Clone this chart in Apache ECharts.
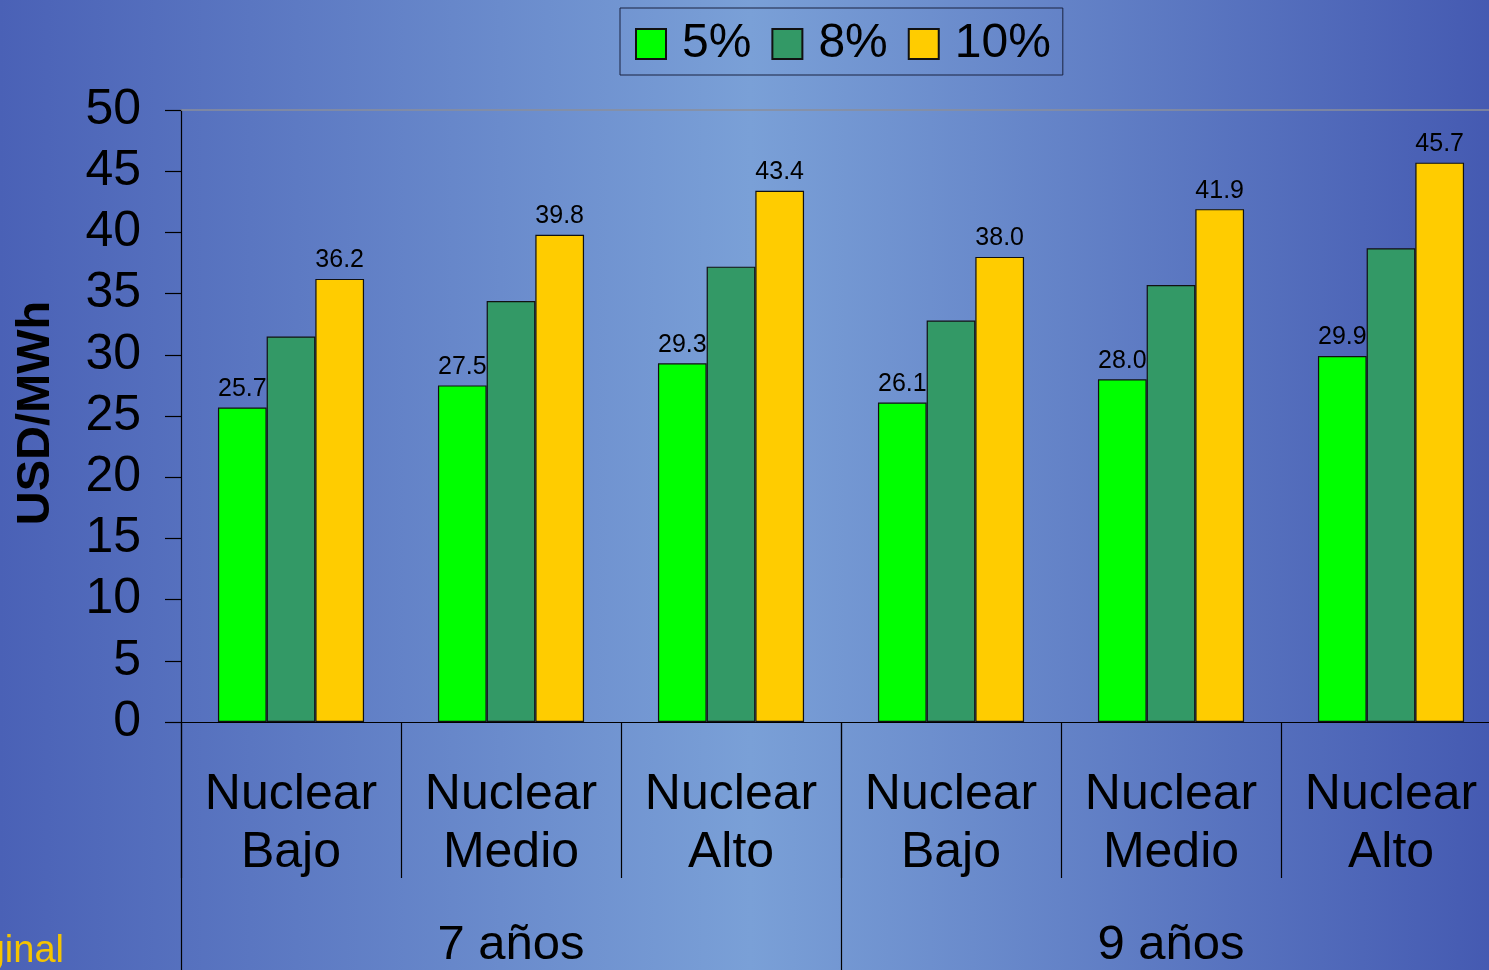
<!DOCTYPE html>
<html>
<head>
<meta charset="utf-8">
<title>Costo nivelado - Nuclear</title>
<script src="https://cdn.jsdelivr.net/npm/echarts@6/dist/echarts.min.js"></script>
<style>
  html, body { margin: 0; padding: 0; overflow: hidden; width: 1489px; height: 970px; position: relative; }
  /* the plot area runs a little past the right edge of the page */
  #chart { position: absolute; left: 0; top: 0; width: 1501px; height: 970px; }
</style>
</head>
<body>
<div id="chart"></div>
<script>
// Scenario categories: cost level within each construction horizon
const levels = ['Bajo', 'Medio', 'Alto'];
const horizons = ['7 años', '9 años'];
const categories = ['Nuclear\nBajo', 'Nuclear\nMedio', 'Nuclear\nAlto',
                    'Nuclear\nBajo', 'Nuclear\nMedio', 'Nuclear\nAlto'];

// Levelized cost (USD/MWh) by discount rate
const seriesNames = ['5%', '8%', '10%'];
const rate5  = [25.7, 27.5, 29.3, 26.1, 28.0, 29.9];
const rate8  = [31.5, 34.4, 37.2, 32.8, 35.7, 38.7];
const rate10 = [36.2, 39.8, 43.4, 38.0, 41.9, 45.7];

const yTicks = [0, 5, 10, 15, 20, 25, 30, 35, 40, 45, 50];

const FONT = 'Liberation Sans, Arial, sans-serif';
const colors = ['#00ff00', '#339966', '#ffcc00'];

const chart = echarts.init(document.getElementById('chart'), null, { renderer: 'canvas', width: 1501, height: 970 });

function barSeries(name, data, color, showLabel) {
  return {
    name: name,
    type: 'bar',
    xAxisIndex: 0,
    data: data,
    barGap: '0%',
    barCategoryGap: '33.6%',
    itemStyle: { color: color, borderColor: '#111111', borderWidth: 1.2 },
    label: {
      show: showLabel,
      position: 'top',
      distance: 6,
      color: '#000000',
      fontFamily: FONT,
      fontSize: 25,
      formatter: p => p.value.toFixed(1)
    },
    emphasis: { disabled: true },
    animation: false
  };
}

const option = {
  backgroundColor: {
    type: 'linear', x: 0, y: 0, x2: 1, y2: 0,
    colorStops: [
      { offset: 0, color: '#4a61b6' },
      { offset: 0.5, color: '#7aa0d7' },
      { offset: 1, color: '#4459b1' }
    ]
  },
  animation: false,
  grid: { left: 181, right: 0, top: 110, bottom: 243 },
  legend: {
    data: seriesNames,
    left: 620,
    top: 8,
    padding: [12, 12, 7, 15],
    itemWidth: 30,
    itemHeight: 30,
    itemGap: 20,
    borderColor: '#1b2340',
    borderWidth: 1,
    icon: 'rect',
    textStyle: { fontFamily: FONT, fontSize: 48, lineHeight: 46, color: '#000000', padding: [0, 0, 0, 11] }
  },
  xAxis: [
    {
      type: 'category',
      data: categories,
      position: 'bottom',
      axisLine: { show: true, lineStyle: { color: '#000000', width: 1.2 } },
      axisTick: { show: true, length: 156, interval: 0, lineStyle: { color: '#000000', width: 1.2 } },
      axisLabel: {
        interval: 0,
        margin: 44,
        color: '#000000',
        fontFamily: FONT,
        fontSize: 50,
        lineHeight: 58
      }
    },
    {
      type: 'category',
      data: horizons,
      position: 'bottom',
      axisLine: { show: false },
      axisTick: { show: true, length: 250, interval: 0, lineStyle: { color: '#000000', width: 1.2 } },
      axisLabel: {
        interval: 0,
        margin: 198,
        color: '#000000',
        fontFamily: FONT,
        fontSize: 49,
        lineHeight: 50
      }
    },
    {
      type: 'category',
      data: categories,
      position: 'top',
      axisLine: { show: true, lineStyle: { color: '#8a8f9a', width: 1.5 } },
      axisTick: { show: false },
      axisLabel: { show: false }
    }
  ],
  yAxis: {
    type: 'value',
    min: yTicks[0],
    max: yTicks[yTicks.length - 1],
    interval: 5,
    axisLine: { show: true, lineStyle: { color: '#000000', width: 1.2 } },
    axisTick: { show: true, length: 16, lineStyle: { color: '#000000', width: 1.2 } },
    splitLine: { show: false },
    axisLabel: {
      margin: 40,
      color: '#000000',
      fontFamily: FONT,
      fontSize: 50,
      padding: [10, 0, 0, 0]
    }
  },
  series: [
    barSeries(seriesNames[0], rate5, colors[0], true),
    barSeries(seriesNames[1], rate8, colors[1], false),
    barSeries(seriesNames[2], rate10, colors[2], true)
  ],
  graphic: [
    {
      type: 'text',
      x: 36,
      y: 413,
      rotation: Math.PI / 2,
      style: {
        text: 'USD/MWh',
        fontFamily: FONT,
        fontWeight: 'bold',
        fontSize: 47,
        fill: '#000000',
        align: 'center',
        verticalAlign: 'middle'
      }
    },
    {
      type: 'text',
      x: 64,
      y: 952,
      style: {
        text: 'Costo marginal',
        fontFamily: FONT,
        fontSize: 38,
        fill: '#f5c400',
        align: 'right',
        verticalAlign: 'middle'
      }
    }
  ]
};

chart.setOption(option);
</script>
</body>
</html>
